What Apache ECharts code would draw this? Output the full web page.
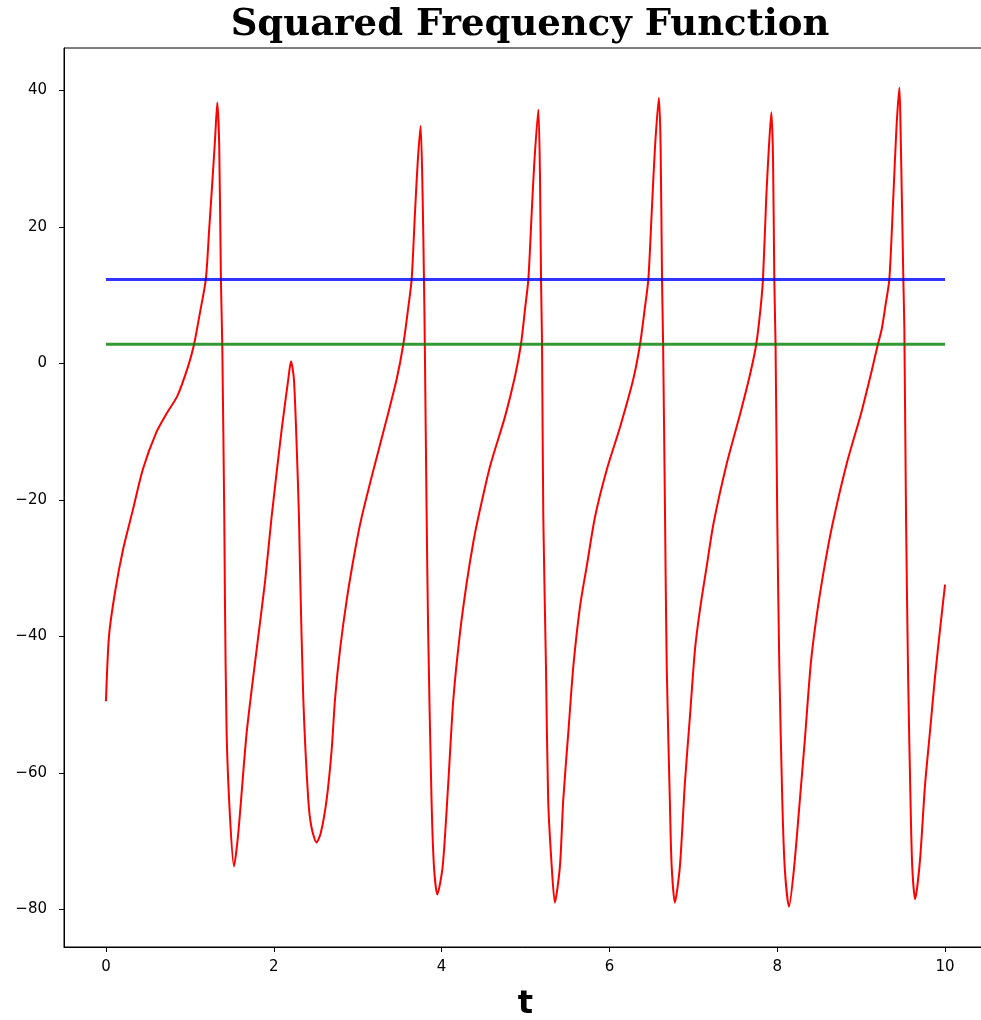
<!DOCTYPE html>
<html>
<head>
<meta charset="utf-8">
<script src="https://cdn.jsdelivr.net/npm/echarts@6/dist/echarts.min.js"></script>
<style>
html,body{margin:0;padding:0;background:#fff;overflow:hidden;}
#chart{width:981px;height:1020px;}
</style>
</head>
<body>
<div id="chart"></div>
<script>
// Red curve: time values and function values
const redT = [0,0.036,0.107,0.203,0.32,0.44,0.6,0.72,0.85,0.98,1.05,1.12,1.19,1.23,1.27,1.30,1.327,1.35,1.37,1.386,1.41,1.418,1.438,1.478,1.526,1.577,1.677,1.796,1.895,1.975,2.094,2.173,2.205,2.24,2.273,2.30,2.312,2.352,2.411,2.45,2.51,2.56,2.63,2.69,2.73,2.79,2.87,2.97,3.05,3.19,3.345,3.465,3.544,3.60,3.643,3.683,3.715,3.75,3.774,3.79,3.80,3.822,3.84,3.88,3.909,3.949,4.013,4.08,4.14,4.22,4.30,4.378,4.44,4.577,4.756,4.875,4.946,4.994,5.034,5.074,5.105,5.153,5.173,5.185,5.197,5.212,5.244,5.27,5.312,5.35,5.41,5.45,5.51,5.57,5.65,5.73,5.83,5.97,6.13,6.285,6.365,6.42,6.464,6.504,6.544,6.59,6.61,6.627,6.64,6.663,6.683,6.72,6.742,6.78,6.84,6.90,6.96,7.02,7.08,7.16,7.24,7.40,7.56,7.68,7.75,7.80,7.83,7.87,7.90,7.93,7.95,7.965,7.98,8.0,8.025,8.06,8.09,8.14,8.20,8.27,8.33,8.40,8.47,8.56,8.66,8.83,9.00,9.12,9.2,9.245,9.29,9.336,9.384,9.42,9.456,9.47,9.503,9.515,9.535,9.56,9.59,9.61,9.643,9.70,9.76,9.82,9.88,9.94,10.0];
const redV = [-49.5,-40.0,-33.6,-27.3,-21.5,-15.5,-10.1,-7.4,-4.8,-0.4,2.8,7.4,12.3,19.6,27.0,32.8,38.2,31.8,12.3,2.8,-22.4,-34.6,-54.1,-66.4,-73.7,-68.8,-54.1,-41.9,-32.1,-22.4,-9.7,-2.3,0.3,-2.3,-12.1,-22.4,-29.7,-49.2,-63.9,-68.0,-70.2,-68.8,-63.9,-56.6,-49.2,-41.9,-34.6,-27.3,-22.4,-15.5,-8.2,-2.3,2.8,7.9,12.3,22.1,29.4,34.8,24.5,12.3,2.8,-22.4,-39.4,-63.9,-73.7,-77.8,-73.7,-61.4,-49.2,-39.4,-32.1,-26.2,-22.4,-15.1,-7.8,-1.9,2.8,7.9,12.3,22.1,29.4,37.2,27.0,12.3,2.8,-22.4,-44.4,-63.9,-73.6,-79.0,-73.7,-63.9,-54.1,-44.4,-35.6,-29.7,-22.4,-15.5,-9.2,-2.3,2.8,7.9,12.3,22.1,31.8,38.9,31.8,12.3,2.8,-22.4,-44.4,-63.9,-73.7,-79.0,-73.7,-61.4,-51.7,-41.9,-36.0,-29.7,-23.5,-14.6,-7.3,-1.4,2.8,7.9,12.3,24.5,31.5,36.8,30.0,12.3,2.8,-22.4,-44.4,-63.9,-74.0,-79.6,-74.0,-63.9,-55.0,-44.0,-37.0,-30.0,-23.5,-14.6,-7.3,-1.4,2.8,5.0,8.5,12.3,24.5,34.3,40.4,34.3,12.3,5.0,-22.4,-46.0,-65.0,-74.0,-78.5,-73.0,-62.0,-54.0,-46.0,-39.0,-32.4];
// Horizontal reference levels
const hlineT = [0, 10];
const blueLevel = 12.3;
const greenLevel = 2.8;
// Tick labels
const xTicks = [0, 2, 4, 6, 8, 10];
const yTicks = [-80, -60, -40, -20, 0, 20, 40];
const titleText = 'Squared Frequency Function';
const xLabel = 't';

const redData = redT.map((t, i) => [t, redV[i]]);
const blueData = hlineT.map(t => [t, blueLevel]);
const greenData = hlineT.map(t => [t, greenLevel]);

const chart = echarts.init(document.getElementById('chart'), null, {renderer: 'canvas'});
const tickFont = {fontFamily: 'DejaVu Sans', fontSize: 15, color: '#000'};
chart.setOption({
  animation: false,
  backgroundColor: '#fff',
  title: {
    text: titleText,
    left: 525, top: 2, textAlign: 'center',
    textStyle: {fontFamily: 'DejaVu Serif', fontWeight: 'bold', fontSize: 37, color: '#000'}
  },
  grid: {left: 64, width: 923, top: 48, height: 899, outerBoundsMode: 'none', containLabel: false,
         show: true, borderColor: '#000', borderWidth: 1, backgroundColor: 'transparent'},
  xAxis: {
    type: 'value', min: -0.5, max: 10.5,
    name: xLabel, nameLocation: 'middle', nameGap: 42,
    nameTextStyle: {fontFamily: 'DejaVu Sans', fontWeight: 'bold', fontSize: 32, color: '#000'},
    axisLine: {show: true, onZero: false, lineStyle: {color: '#000', width: 1}},
    axisTick: {show: true, length: 5, lineStyle: {color: '#000', width: 1}, customValues: xTicks},
    axisLabel: Object.assign({margin: 13, customValues: xTicks, formatter: v => String(v)}, tickFont),
    splitLine: {show: false}
  },
  yAxis: {
    type: 'value', min: -85.5, max: 46.2,
    axisLine: {show: true, onZero: false, lineStyle: {color: '#000', width: 1}},
    axisTick: {show: true, length: 5, lineStyle: {color: '#000', width: 1}, customValues: yTicks},
    axisLabel: Object.assign({margin: 17, customValues: yTicks, formatter: v => String(v).replace('-', '\u2212')}, tickFont),
    splitLine: {show: false}
  },
  series: [
    {type: 'line', data: redData, showSymbol: false, smooth: 0.25,
     lineStyle: {color: '#ff0000', width: 2}, z: 2},
    {type: 'line', data: blueData, showSymbol: false, lineStyle: {color: 'rgba(0,0,255,0.8)', width: 3}, z: 3},
    {type: 'line', data: greenData, showSymbol: false, lineStyle: {color: 'rgba(0,128,0,0.8)', width: 3}, z: 3}
  ]
});
</script>
</body>
</html>
